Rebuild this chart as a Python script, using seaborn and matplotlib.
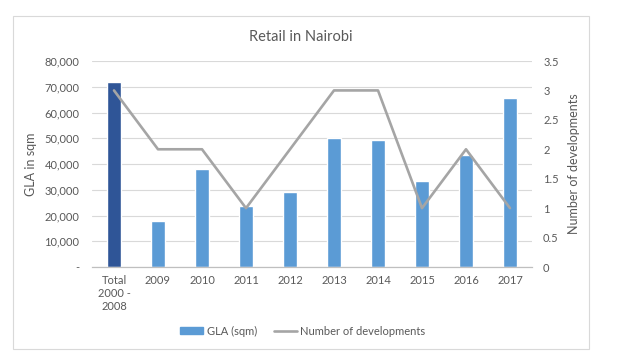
import numpy as np
import pandas as pd
import matplotlib
matplotlib.use("Agg")
import matplotlib.pyplot as plt
import matplotlib.patches as mpatches
from matplotlib.lines import Line2D
from matplotlib.ticker import FuncFormatter, MultipleLocator
import seaborn as sns

categories = ["Total\n2000 -\n2008", "2009", "2010", "2011", "2012",
              "2013", "2014", "2015", "2016", "2017"]
gla_sqm = [72000, 18000, 38000, 23700, 29000, 50000, 49300, 33300, 43400, 65800]
num_developments = [3, 2, 2, 1, 2, 3, 3, 1, 2, 1]

sns.set_style("white")
plt.rcParams["font.family"] = ["Lato", "DejaVu Sans"]

text_col = "#595959"
bar_dark = "#2F5597"
bar_light = "#5B9BD5"
line_col = "#A5A5A5"

df = pd.DataFrame({"period": categories, "gla": gla_sqm, "devs": num_developments})
palette = [bar_dark] + [bar_light] * (len(categories) - 1)

fig = plt.figure(figsize=(6.18, 3.61), dpi=100)
ax = fig.add_axes([92 / 618, 1 - 267 / 361, 440 / 618, 206 / 361])

sns.barplot(data=df, x="period", y="gla", hue="period", palette=palette,
            legend=False, width=0.32, ax=ax, saturation=1)
ax.set_ylim(0, 80000)
ax.set_xlim(-0.5, len(categories) - 0.5)
ax.yaxis.set_major_locator(MultipleLocator(10000))
ax.yaxis.set_major_formatter(FuncFormatter(lambda v, p: "-" if v == 0 else f"{v:,.0f}"))
ax.grid(axis="y", color="#D9D9D9", linewidth=0.8)
ax.set_axisbelow(True)
ax.set_xlabel("")
ax.set_ylabel("GLA in sqm", color=text_col, fontsize=9)
ax.yaxis.set_label_coords(-0.125, 0.5)

ax2 = ax.twinx()
sns.lineplot(x=np.arange(len(categories)), y=df["devs"], ax=ax2,
             color=line_col, linewidth=1.9)
ax2.set_ylim(0, 3.5)
ax2.yaxis.set_major_locator(MultipleLocator(0.5))
ax2.yaxis.set_major_formatter(FuncFormatter(lambda v, p: f"{v:g}"))
ax2.set_ylabel("Number of developments", color=text_col, fontsize=9)
ax2.yaxis.set_label_coords(1.082, 0.5)

for a in (ax, ax2):
    for s in ("top", "left", "right"):
        a.spines[s].set_visible(False)
    a.spines["bottom"].set_color("#BFBFBF")
    a.tick_params(length=0, labelsize=8, labelcolor=text_col)
ax.tick_params(axis="x", pad=6)
ax.tick_params(axis="y", pad=9)
ax2.tick_params(axis="y", pad=8)

fig.text(0.487, 1 - 37 / 361, "Retail in Nairobi", ha="center", va="center",
         fontsize=10.5, color=text_col)

handles = [mpatches.Patch(color=bar_light, label="GLA (sqm)"),
           Line2D([0], [0], color=line_col, linewidth=1.9, label="Number of developments")]
fig.legend(handles=handles, loc="center", bbox_to_anchor=(0.49, 1 - 331 / 361),
           ncol=2, frameon=False, fontsize=8, labelcolor=text_col,
           handlelength=2.1, handleheight=0.5, columnspacing=1.5, handletextpad=0.3)

fig.patches.append(mpatches.Rectangle((13 / 618, 1 - 349 / 361), 576 / 618, 333 / 361,
                                      transform=fig.transFigure, fill=False,
                                      edgecolor="#D9D9D9", linewidth=0.8))

fig.savefig("out.png", dpi=100)
